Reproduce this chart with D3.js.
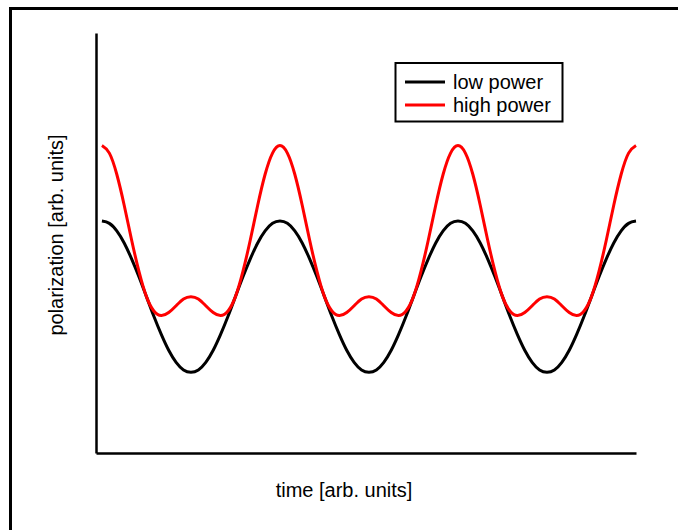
<!DOCTYPE html>
<html>
<head>
<meta charset="utf-8">
<script src="https://cdn.jsdelivr.net/npm/d3@7"></script>
<style>
  html, body { margin: 0; padding: 0; background: #fff; }
  svg { display: block; font-family: "Liberation Sans", Arial, sans-serif; }
</style>
</head>
<body>
<div id="chart"></div>
<script>
// phase in degrees (15° steps, 3 full periods)
const phase = [
  0, 15, 30, 45, 60, 75, 90, 105, 120, 135, 150, 165,
  180, 195, 210, 225, 240, 255, 270, 285, 300, 315, 330, 345,
  360, 375, 390, 405, 420, 435, 450, 465, 480, 495, 510, 525,
  540, 555, 570, 585, 600, 615, 630, 645, 660, 675, 690, 705,
  720, 735, 750, 765, 780, 795, 810, 825, 840, 855, 870, 885,
  900, 915, 930, 945, 960, 975, 990, 1005, 1020, 1035, 1050, 1065,
  1080
];

// low power: plain oscillation
const lowPower = [
  1, 0.97, 0.87, 0.71, 0.5, 0.26, 0, -0.26, -0.5, -0.71, -0.87, -0.97,
  -1, -0.97, -0.87, -0.71, -0.5, -0.26, 0, 0.26, 0.5, 0.71, 0.87, 0.97,
  1, 0.97, 0.87, 0.71, 0.5, 0.26, 0, -0.26, -0.5, -0.71, -0.87, -0.97,
  -1, -0.97, -0.87, -0.71, -0.5, -0.26, 0, 0.26, 0.5, 0.71, 0.87, 0.97,
  1, 0.97, 0.87, 0.71, 0.5, 0.26, 0, -0.26, -0.5, -0.71, -0.87, -0.97,
  -1, -0.97, -0.87, -0.71, -0.5, -0.26, 0, 0.26, 0.5, 0.71, 0.87, 0.97,
  1
];

// high power: larger peaks, small bump in the valleys
const highPower = [
  2, 1.9, 1.62, 1.21, 0.75, 0.33, 0, -0.19, -0.25, -0.21, -0.12, -0.03,
  0, -0.03, -0.12, -0.21, -0.25, -0.19, 0, 0.33, 0.75, 1.21, 1.62, 1.9,
  2, 1.9, 1.62, 1.21, 0.75, 0.33, 0, -0.19, -0.25, -0.21, -0.12, -0.03,
  0, -0.03, -0.12, -0.21, -0.25, -0.19, 0, 0.33, 0.75, 1.21, 1.62, 1.9,
  2, 1.9, 1.62, 1.21, 0.75, 0.33, 0, -0.19, -0.25, -0.21, -0.12, -0.03,
  0, -0.03, -0.12, -0.21, -0.25, -0.19, 0, 0.33, 0.75, 1.21, 1.62, 1.9,
  2
];

const seriesNames = ["low power", "high power"];
const seriesColors = ["#000000", "#ff0000"];

const W = 678, H = 530;
const svg = d3.select("#chart").append("svg")
  .attr("width", W)
  .attr("height", H);

// outer frame (top + left edges visible)
svg.append("path")
  .attr("d", `M10.5,${H} L10.5,8.5 L${W},8.5`)
  .attr("fill", "none")
  .attr("stroke", "#000")
  .attr("stroke-width", 3);

const x = d3.scaleLinear().domain([-12, 1080]).range([96, 636]);
const y = d3.scaleLinear().domain([-2.07, 3.49]).range([453, 33]);

// axes: plain lines, no ticks
const axisStyle = g => {
  g.select(".domain").attr("stroke", "#000").attr("stroke-width", 2.5);
  g.selectAll(".tick").remove();
};
svg.append("g")
  .attr("transform", "translate(0,453)")
  .call(d3.axisBottom(x).ticks(0).tickSizeOuter(0))
  .call(axisStyle);
svg.append("g")
  .attr("transform", "translate(96,0)")
  .call(d3.axisLeft(y).ticks(0).tickSizeOuter(0))
  .call(axisStyle);

const line = d3.line()
  .x((d, i) => x(phase[i]))
  .y(d => y(d))
  .curve(d3.curveNatural);

[lowPower, highPower].forEach((vals, k) => {
  svg.append("path")
    .datum(vals)
    .attr("d", line)
    .attr("fill", "none")
    .attr("stroke", seriesColors[k])
    .attr("stroke-width", 3)
    .attr("stroke-linejoin", "round");
});

// axis labels
svg.append("text")
  .attr("x", 344)
  .attr("y", 497)
  .attr("text-anchor", "middle")
  .attr("font-size", 20)
  .attr("fill", "#000")
  .text("time [arb. units]");

svg.append("text")
  .attr("transform", "translate(63,235) rotate(-90)")
  .attr("text-anchor", "middle")
  .attr("font-size", 20)
  .attr("fill", "#000")
  .text("polarization [arb. units]");

// legend
const legend = svg.append("g");
legend.append("rect")
  .attr("x", 395.5)
  .attr("y", 63)
  .attr("width", 167)
  .attr("height", 58.5)
  .attr("fill", "#fff")
  .attr("stroke", "#000")
  .attr("stroke-width", 2);

seriesNames.forEach((name, k) => {
  const ly = 82 + k * 23;
  legend.append("line")
    .attr("x1", 405).attr("x2", 445)
    .attr("y1", ly).attr("y2", ly)
    .attr("stroke", seriesColors[k])
    .attr("stroke-width", 3);
  legend.append("text")
    .attr("x", 453)
    .attr("y", ly + 7)
    .attr("font-size", 20)
    .attr("fill", "#000")
    .text(name);
});
</script>
</body>
</html>
